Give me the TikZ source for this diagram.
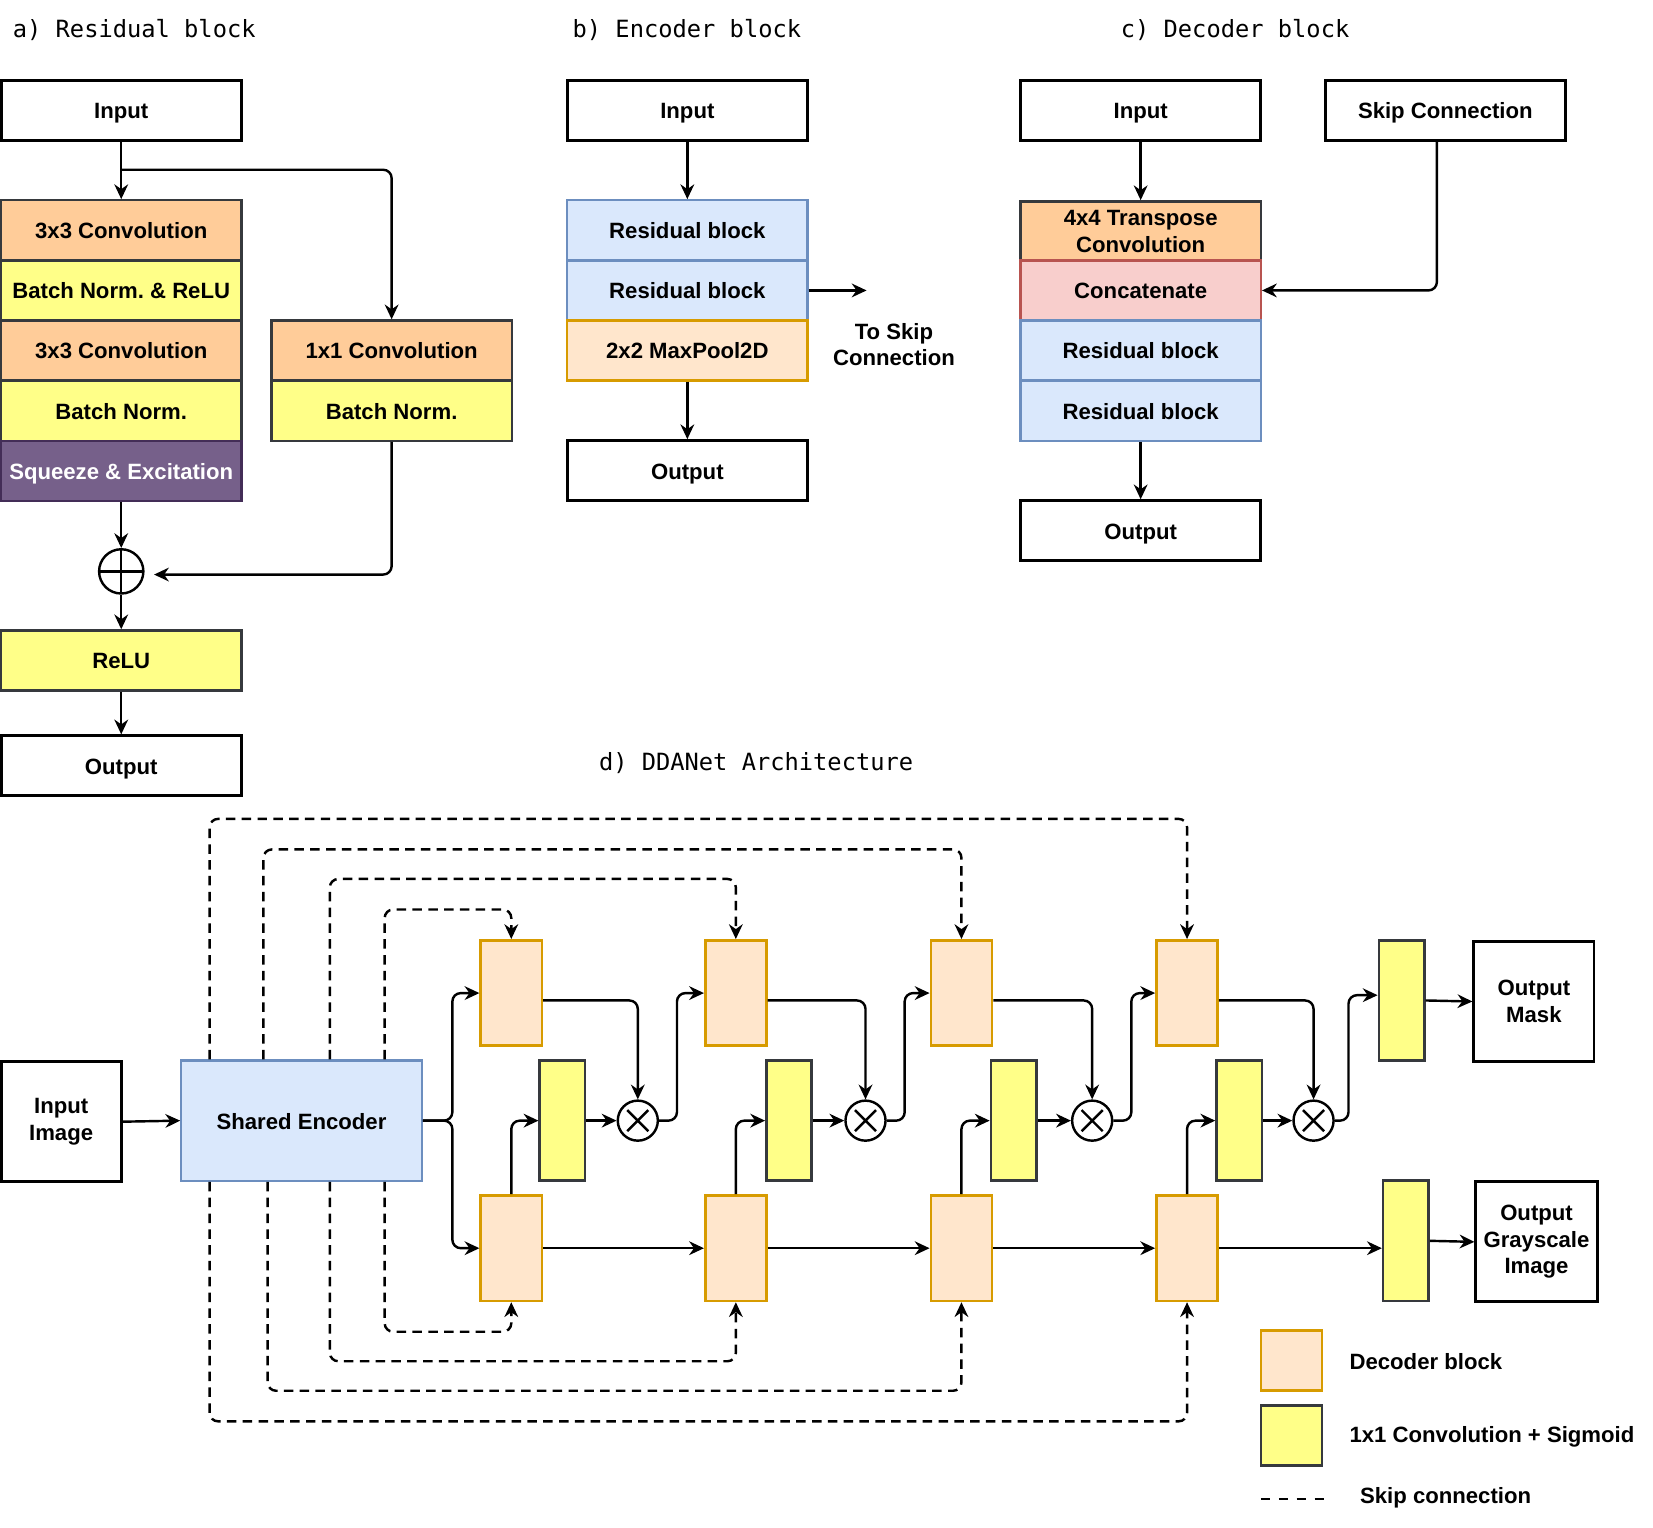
\documentclass[tikz,border=0pt]{standalone}
\usepackage{fontspec}
\setmainfont{Liberation Sans}
\newfontfamily\titlemono{DejaVu Sans Mono}
\usetikzlibrary{arrows.meta,calc}
\frenchspacing
\definecolor{convF}{HTML}{FFCC99}
\definecolor{darkD}{HTML}{36393D}
\definecolor{bnF}{HTML}{FFFF88}
\definecolor{seF}{HTML}{76608A}
\definecolor{seD}{HTML}{432D57}
\definecolor{resF}{HTML}{DAE8FC}
\definecolor{resD}{HTML}{6C8EBF}
\definecolor{decF}{HTML}{FFE6CC}
\definecolor{decD}{HTML}{D79B00}
\definecolor{catF}{HTML}{F8CECC}
\definecolor{catD}{HTML}{B85450}
\tikzset{
  box/.style={draw, line width=2.2pt, inner sep=0pt, align=center,
    font=\bfseries\fontsize{21}{25}\selectfont, minimum width=228pt, minimum height=57pt,
    text height=16pt, text depth=0pt},
  multi/.style={text height={}, text depth={}},
  inbox/.style={box, draw=black, fill=white, line width=2.8pt},
  convbox/.style={box, fill=convF, draw=darkD},
  bnbox/.style={box, fill=bnF, draw=darkD},
  sebox/.style={box, fill=seF, draw=seD, text=white},
  resbox/.style={box, fill=resF, draw=resD},
  poolbox/.style={box, fill=decF, draw=decD},
  catbox/.style={box, fill=catF, draw=catD},
  decbox/.style={box, fill=decF, draw=decD, line width=2.5pt, minimum width=58pt, minimum height=100pt},
  ysig/.style={box, fill=bnF, draw=darkD, line width=2.5pt, minimum width=43pt, minimum height=114pt},
  plain/.style={inner sep=0pt, align=center, font=\bfseries\fontsize{21}{25}\selectfont},
  title/.style={inner sep=0pt, anchor=west, font=\titlemono\fontsize{22.5}{27}\selectfont},
  arr/.style={line width=2.3pt, -{Stealth[length=14pt,width=13pt]}},
  skiparr/.style={arr, dash pattern=on 9pt off 6pt, rounded corners=8pt},
  plusc/.style={circle, draw, line width=2.3pt, minimum size=42pt, inner sep=0pt,
    path picture={\draw[line width=2.3pt] (path picture bounding box.north) -- (path picture bounding box.south)
      (path picture bounding box.west) -- (path picture bounding box.east);}},
  timesc/.style={circle, draw, fill=white, line width=2.3pt, minimum size=38pt, inner sep=0pt,
    path picture={\draw[line width=2.3pt] (path picture bounding box.center) ++(-10,-10) -- ++(20,20)
      (path picture bounding box.center) ++(-10,10) -- ++(20,-20);}},
}
\begin{document}
\begin{tikzpicture}[x=1pt,y=-1pt]
\useasboundingbox (0,0) rectangle (1568,1448.5);
% titles
\node[title] (tA) at (12,28) {a) Residual block};
\node[title] (tB) at (543,28) {b) Encoder block};
\node[title] (tC) at (1063,28) {c) Decoder block};
\node[title] (tD) at (568,724) {d) DDANet Architecture};

% ---------- a) Residual block
\node[inbox] (aIn) at (115,104.5) {Input};
\node[convbox] (aC1) at (115,218.5) {3x3 Convolution};
\node[bnbox] (aB1) at (115,275.5) {Batch Norm. \& ReLU};
\node[convbox] (aC2) at (115,332.5) {3x3 Convolution};
\node[bnbox] (aB2) at (115,389.5) {Batch Norm.};
\node[sebox] (aSE) at (115,446.5) {Squeeze \& Excitation};
\node[convbox] (aC3) at (371.5,332.5) {1x1 Convolution};
\node[bnbox] (aB3) at (371.5,389.5) {Batch Norm.};
\node[plusc] (aPlus) at (115,542) {};
\node[bnbox] (aRelu) at (115,626.5) {ReLU};
\node[inbox] (aOut) at (115,726.5) {Output};
\coordinate (aSplit) at (115,161);
\draw[arr] (aIn.south) -- (aC1.north);
\draw[arr, rounded corners=8pt] (aSplit) -| (aC3.north);
\draw[arr] (aSE.south) -- (aPlus.north);
\draw[arr, rounded corners=8pt] (aB3.south) |- ([xshift=9pt,yshift=-3pt]aPlus.east);
\draw[arr] (aPlus.south) -- (aRelu.north);
\draw[arr] (aRelu.south) -- (aOut.north);

% ---------- b) Encoder block
\node[inbox] (bIn) at (652,104.5) {Input};
\node[resbox] (bR1) at (652,218.5) {Residual block};
\node[resbox] (bR2) at (652,275.5) {Residual block};
\node[poolbox] (bMP) at (652,332.5) {2x2 MaxPool2D};
\node[inbox] (bOut) at (652,446.5) {Output};
\coordinate (bSkip) at (822,275.5);
\node[plain] (bTxt) at (848,327) {To Skip\\Connection};
\draw[arr] (bIn.south) -- (bR1.north);
\draw[arr] (bMP.south) -- (bOut.north);
\draw[arr] (bR2.east) -- (bSkip);

% ---------- c) Decoder block
\node[inbox] (cIn) at (1082,104.5) {Input};
\node[inbox] (cSkip) at (1371,104.5) {Skip Connection};
\node[convbox, multi] (cT) at (1082,219.5) {4x4 Transpose\\Convolution};
\node[catbox] (cCat) at (1082,275.5) {Concatenate};
\node[resbox] (cR1) at (1082,332.5) {Residual block};
\node[resbox] (cR2) at (1082,389.5) {Residual block};
\node[inbox] (cOut) at (1082,503.5) {Output};
\draw[arr] (cIn.south) -- (cT.north);
\draw[arr, rounded corners=8pt] ([xshift=-8pt]cSkip.south) |- (cCat.east);
\draw[arr] (cR2.south) -- (cOut.north);

% ---------- d) DDANet
\node[inbox, multi, minimum width=114pt, minimum height=114pt] (dIn) at (58,1064) {Input\\Image};
\node[resbox, minimum height=114pt] (dEnc) at (286,1063) {Shared Encoder};
\draw[arr] (dIn.east) -- (dEnc.west);

\foreach \i/\x/\yx/\mx in {1/485/533.5/605, 2/698/748.5/821, 3/912/961.5/1036, 4/1126/1175.5/1246}{
  \node[decbox] (dT\i) at (\x,942) {};
  \node[decbox] (dB\i) at (\x,1184) {};
  \node[ysig] (dY\i) at (\yx,1063) {};
  \node[timesc] (dM\i) at (\mx,1063) {};
}
\node[ysig] (dYo1) at (1329.5,949) {};
\node[inbox, multi, minimum width=114pt, minimum height=114pt] (dOm) at (1455,950) {Output\\Mask};
\node[ysig] (dYo2) at (1333.5,1177) {};
\node[inbox, multi, minimum width=115pt, minimum height=114pt] (dOg) at (1457.5,1178) {Output\\Grayscale\\Image};

% encoder split
\draw[arr, rounded corners=8pt] (dEnc.east) -- ++(28,0) |- (dT1.west);
\draw[arr, rounded corners=8pt] (dEnc.east) -- ++(28,0) |- (dB1.west);

\foreach \i in {1,2,3,4}{
  \draw[arr, rounded corners=8pt] ([yshift=-7pt]dT\i.east) -| (dM\i.north);
  \draw[arr, rounded corners=8pt] (dB\i.north) |- (dY\i.west);
  \draw[arr] (dY\i.east) -- (dM\i.west);
}
\draw[arr, rounded corners=8pt] (dM1.east) -- ++(17,0) |- (dT2.west);
\draw[arr, rounded corners=8pt] (dM2.east) -- ++(17,0) |- (dT3.west);
\draw[arr, rounded corners=8pt] (dM3.east) -- ++(17,0) |- (dT4.west);
\draw[arr, rounded corners=8pt] (dM4.east) -- ++(13,0) |- ([yshift=5pt]dYo1.west);
\draw[arr] (dYo1.east) -- (dOm.west);
\draw[arr] (dB1.east) -- (dB2.west);
\draw[arr] (dB2.east) -- (dB3.west);
\draw[arr] (dB3.east) -- (dB4.west);
\draw[arr] (dB4.east) -- (dB4.east -| dYo2.west);
\draw[arr] (dYo2.east) -- (dOg.west);

% skip connections
\draw[skiparr] ([xshift=28pt]dEnc.north west) |- ([yshift=114pt]dT4.north) -- (dT4.north);
\draw[skiparr] ([xshift=79pt]dEnc.north west) |- ([yshift=85pt]dT3.north) -- (dT3.north);
\draw[skiparr] ([xshift=142pt]dEnc.north west) |- ([yshift=57pt]dT2.north) -- (dT2.north);
\draw[skiparr] ([xshift=194pt]dEnc.north west) |- ([yshift=28pt]dT1.north) -- (dT1.north);
\draw[skiparr] ([xshift=194pt]dEnc.south west) |- ([yshift=-28pt]dB1.south) -- (dB1.south);
\draw[skiparr] ([xshift=142pt]dEnc.south west) |- ([yshift=-56pt]dB2.south) -- (dB2.south);
\draw[skiparr] ([xshift=83pt]dEnc.south west) |- ([yshift=-84pt]dB3.south) -- (dB3.south);
\draw[skiparr] ([xshift=28pt]dEnc.south west) |- ([yshift=-113pt]dB4.south) -- (dB4.south);

% legend
\node[decbox, minimum width=58pt, minimum height=57pt] (lg1) at (1225,1290.5) {};
\node[plain, anchor=west] (lg1t) at (1280,1292) {Decoder block};
\node[ysig, minimum width=58pt, minimum height=57pt] (lg2) at (1225,1361.5) {};
\node[plain, anchor=west] (lg2t) at (1280,1363) {1x1 Convolution + Sigmoid};
\coordinate (lg3a) at (1196,1422);
\coordinate (lg3b) at (1260,1422);
\draw[line width=2.3pt, dash pattern=on 9pt off 8pt] (lg3a) -- (lg3b);
\node[plain, anchor=west] (lg3t) at (1290,1421) {Skip connection};
\end{tikzpicture}
\end{document}
